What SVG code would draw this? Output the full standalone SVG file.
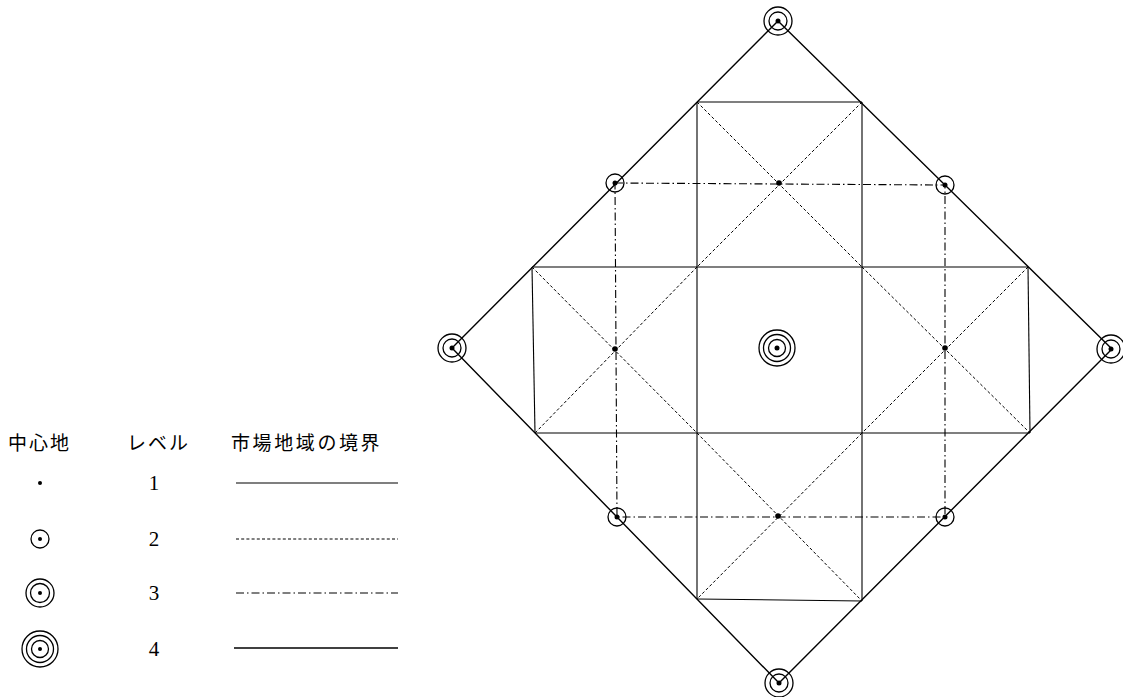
<svg xmlns="http://www.w3.org/2000/svg" width="1123" height="697" viewBox="0 0 1123 697">
<defs>
<style>
.l4{fill:none;stroke:#000;stroke-width:1.4}
.l1{fill:none;stroke:#000;stroke-width:1.1}
.l2{fill:none;stroke:#000;stroke-width:1;stroke-dasharray:3 2.2}
.l3{fill:none;stroke:#000;stroke-width:1.1;stroke-dasharray:8 3 1.5 3}
.ring{fill:#fff;fill-opacity:0;stroke:#000;stroke-width:1.3}
.dot{fill:#000}
.jp{font-family:'Noto Sans CJK JP',sans-serif;font-size:19px;fill:#000}
.num{font-family:'Liberation Serif',serif;font-size:21px;fill:#000;text-anchor:middle}
</style>
</defs>
<rect width="1123" height="697" fill="#fff"/>
<g id="connectors">
<polygon class="l4" points="778,21 1112,349 779,683 452,348"/>
<g id="level1-boundaries">
<line class="l1" x1="697" y1="102" x2="862" y2="102"/>
<line class="l1" x1="697" y1="102" x2="697" y2="599"/>
<line class="l1" x1="862" y1="102" x2="862" y2="601"/>
<line class="l1" x1="532" y1="267" x2="1028" y2="267"/>
<line class="l1" x1="535" y1="433" x2="1030" y2="433"/>
<line class="l1" x1="532" y1="267" x2="535" y2="433"/>
<line class="l1" x1="1028" y1="267" x2="1030" y2="433"/>
<line class="l1" x1="697" y1="599" x2="862" y2="601"/>
</g>
<g id="level2-boundaries">
<line class="l2" x1="697" y1="102" x2="862" y2="267"/>
<line class="l2" x1="862" y1="102" x2="697" y2="267"/>
<line class="l2" x1="532" y1="267" x2="697" y2="433"/>
<line class="l2" x1="697" y1="267" x2="535" y2="433"/>
<line class="l2" x1="862" y1="267" x2="1030" y2="433"/>
<line class="l2" x1="1028" y1="267" x2="862" y2="433"/>
<line class="l2" x1="697" y1="433" x2="862" y2="601"/>
<line class="l2" x1="862" y1="433" x2="697" y2="599"/>
</g>
<polygon id="level3-boundary" class="l3" points="615,183 945,185 945,517 617,517"/>
</g>
<g id="center-l4"><circle class="ring" cx="777" cy="348" r="18"/><circle class="ring" cx="777" cy="348" r="13.5"/><circle class="ring" cx="777" cy="348" r="8.5"/><circle class="dot" cx="777" cy="348" r="2.5"/></g>
<g id="l3-top"><circle class="ring" cx="778" cy="21" r="14"/><circle class="ring" cx="778" cy="21" r="9"/><circle class="dot" cx="778" cy="21" r="2.5"/></g>
<g id="l3-left"><circle class="ring" cx="452" cy="348" r="14"/><circle class="ring" cx="452" cy="348" r="9"/><circle class="dot" cx="452" cy="348" r="2.5"/></g>
<g id="l3-right"><circle class="ring" cx="1111" cy="349" r="14"/><circle class="ring" cx="1111" cy="349" r="9"/><circle class="dot" cx="1111" cy="349" r="2.5"/></g>
<g id="l3-bottom"><circle class="ring" cx="779" cy="683" r="14"/><circle class="ring" cx="779" cy="683" r="9"/><circle class="dot" cx="779" cy="683" r="2.5"/></g>
<g id="l2-nw"><circle class="ring" cx="615" cy="183" r="9"/><circle class="dot" cx="615" cy="183" r="2.5"/></g>
<g id="l2-ne"><circle class="ring" cx="945" cy="185" r="9"/><circle class="dot" cx="945" cy="185" r="2.5"/></g>
<g id="l2-sw"><circle class="ring" cx="617" cy="517" r="9"/><circle class="dot" cx="617" cy="517" r="2.5"/></g>
<g id="l2-se"><circle class="ring" cx="945" cy="517" r="9"/><circle class="dot" cx="945" cy="517" r="2.5"/></g>
<g id="l1-n"><circle class="dot" cx="779" cy="183" r="2.8"/></g>
<g id="l1-w"><circle class="dot" cx="615" cy="349" r="2.8"/></g>
<g id="l1-e"><circle class="dot" cx="945" cy="348" r="2.8"/></g>
<g id="l1-s"><circle class="dot" cx="778" cy="516" r="2.8"/></g>
<g id="legend">
<text class="jp" x="8" y="450" letter-spacing="2">中心地</text>
<text class="jp" x="127" y="450" font-size="17" letter-spacing="2">レベル</text>
<text class="jp" x="231" y="450" letter-spacing="2.6">市場地域の境界</text>
<circle class="dot" cx="40" cy="483" r="2"/>
<text class="num" x="154" y="490">1</text>
<line class="l1" x1="236" y1="483" x2="398" y2="483"/>
<circle class="ring" cx="40" cy="539" r="9"/><circle class="dot" cx="40" cy="539" r="2"/>
<text class="num" x="154" y="546">2</text>
<line class="l2" x1="236" y1="539" x2="398" y2="539"/>
<circle class="ring" cx="40" cy="593" r="14"/><circle class="ring" cx="40" cy="593" r="9.5"/><circle class="dot" cx="40" cy="593" r="2"/>
<text class="num" x="154" y="600">3</text>
<line class="l3" x1="236" y1="593" x2="398" y2="593"/>
<circle class="ring" cx="40" cy="649" r="18"/><circle class="ring" cx="40" cy="649" r="13.5"/><circle class="ring" cx="40" cy="649" r="8.5"/><circle class="dot" cx="40" cy="649" r="2"/>
<text class="num" x="154" y="656">4</text>
<line class="l4" x1="234" y1="648" x2="398" y2="648" stroke-width="1.6"/>
</g>
</svg>
